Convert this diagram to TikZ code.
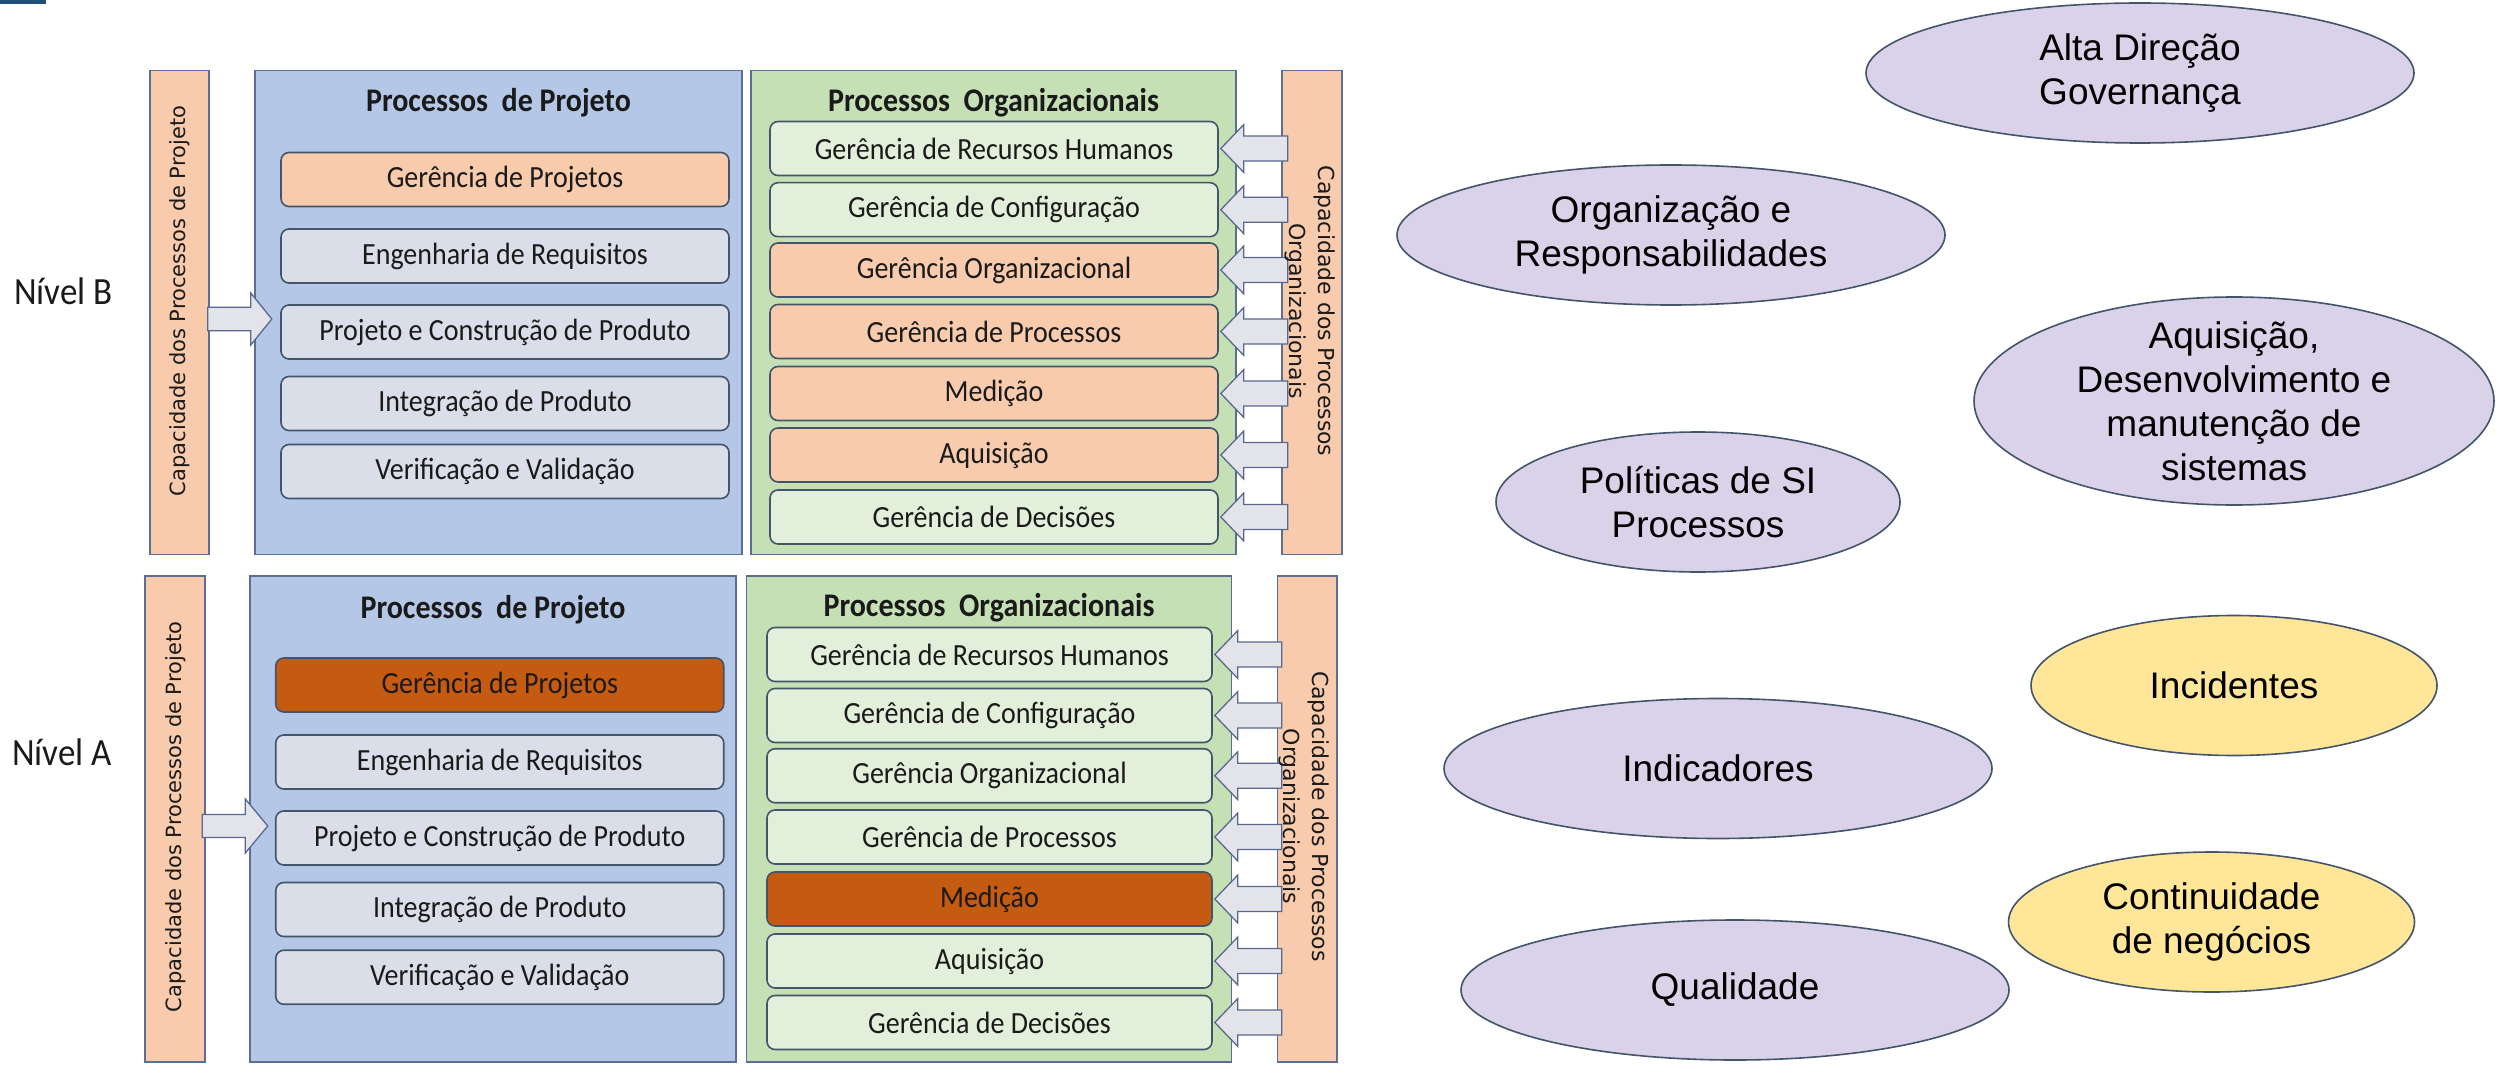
\documentclass[tikz,border=0pt]{standalone}
\usepackage{fontspec}
\usepackage{graphicx}
\setmainfont{Carlito}
\newfontfamily\arialf{Liberation Sans}
\newfontfamily\dejavuf{DejaVu Sans}
\usetikzlibrary{shapes.geometric}
\newcommand{\vstr}[1]{\scalebox{1}[1.1]{#1}}
\definecolor{bluec}{HTML}{B4C7E7}
\definecolor{greenc}{HTML}{C5E0B4}
\definecolor{orangec}{HTML}{F8CBAD}
\definecolor{darkorc}{HTML}{C55A11}
\definecolor{greyc}{HTML}{D9DEE9}
\definecolor{lgreenc}{HTML}{E2EFDA}
\definecolor{lavc}{HTML}{D9D2E9}
\definecolor{yelc}{HTML}{FFE699}
\definecolor{edgec}{HTML}{5B6E93}
\definecolor{iedge}{HTML}{44546A}
\definecolor{arrfill}{HTML}{E3E4EA}
\definecolor{arredge}{HTML}{5A6890}
\definecolor{markc}{HTML}{1F4E79}
\definecolor{txt}{HTML}{1A1A1A}
\begin{document}
\begin{tikzpicture}[x=1pt,y=-1pt,
  outer/.style={draw=edgec, line width=1.6pt, inner sep=0pt},
  ibox/.style={draw=iedge, line width=1.6pt, rounded corners=8pt, inner sep=0pt,
    minimum height=54pt, text=txt, font=\fontsize{28}{33}\selectfont},
  pbox/.style={ibox, minimum width=448pt},
  obox/.style={ibox, minimum width=448pt},
  oboxa/.style={ibox, minimum width=445pt},
  ptitle/.style={inner sep=0pt, text=txt, font=\bfseries\fontsize{30}{36}\selectfont},
  lvl/.style={inner sep=0pt, text=txt, font=\fontsize{35}{40}\selectfont},
  barL/.style={inner sep=0pt, rotate=90, text=txt, font=\dejavuf\fontsize{21}{25}\selectfont},
  barR/.style={inner sep=0pt, rotate=-90, align=center, text=txt, font=\dejavuf\fontsize{22}{29}\selectfont},
  barrow/.style={draw=arredge, fill=arrfill, line width=1.3pt, line join=miter},
  ell/.style={ellipse, draw=iedge, line width=1.6pt, inner sep=0pt},
  etxt/.style={inner sep=0pt, align=center, text=black, font=\arialf\fontsize{37}{44}\selectfont}
]
\fill[white] (0,0) rectangle (2497,1067);
\useasboundingbox (0,0) rectangle (2497,1067);
\fill[markc] (0,0) rectangle (46,4);

% ---------------- Nivel B ----------------
\node[lvl] (nivB) at (63.5,291) {\vstr{Nível B}};
\node[outer, fill=orangec, minimum width=59pt, minimum height=484pt] (barBL) at (179.5,312.5) {};
\node[outer, fill=bluec, minimum width=487pt, minimum height=484pt] (projB) at (498.5,312.5) {};
\node[outer, fill=greenc, minimum width=485pt, minimum height=484pt] (orgB) at (993.5,312.5) {};
\node[outer, fill=orangec, minimum width=60pt, minimum height=484pt] (barBR) at (1312,312.5) {};
\node[ptitle] (tpB) at (498.5,103) {\vstr{Processos~ de Projeto}};
\node[ptitle] (toB) at (993.5,103) {\vstr{Processos~ Organizacionais}};

\node[pbox, fill=orangec] (pB1) at (505,179.5) {\vstr{Gerência de Projetos}};
\node[pbox, fill=greyc] (pB2) at (505,256) {\vstr{Engenharia de Requisitos}};
\node[pbox, fill=greyc] (pB3) at (505,332) {\vstr{Projeto e Construção de Produto}};
\node[pbox, fill=greyc] (pB4) at (505,403.5) {\vstr{Integração de Produto}};
\node[pbox, fill=greyc] (pB5) at (505,471.5) {\vstr{Verificação e Validação}};

\node[obox, fill=lgreenc] (oB1) at (994,148.5) {\vstr{Gerência de Recursos Humanos}};
\node[obox, fill=lgreenc] (oB2) at (994,209.7) {\vstr{Gerência de Configuração}};
\node[obox, fill=orangec] (oB3) at (994,270) {\vstr{Gerência Organizacional}};
\node[obox, fill=orangec] (oB4) at (994,331.5) {\vstr{Gerência de Processos}};
\node[obox, fill=orangec] (oB5) at (994,393.5) {\vstr{Medição}};
\node[obox, fill=orangec] (oB6) at (994,455) {\vstr{Aquisição}};
\node[obox, fill=lgreenc] (oB7) at (994,517) {\vstr{Gerência de Decisões}};

\foreach \i in {1,...,7}{
  \draw[barrow] (oB\i.east) ++(2,0) -- ++(23,-24) -- ++(0,11.5) -- ++(44,0) -- ++(0,25)
    -- ++(-44,0) -- ++(0,11.5) -- cycle;
}
\draw[barrow] (barBL.east) ++(-2,-5.25) -- ++(43,0) -- ++(0,-14.25) -- ++(21,26)
  -- ++(-21,26) -- ++(0,-14.25) -- ++(-43,0) -- cycle;

\node[barL] (cBL) at (179.5,301) {Capacidade dos Processos de Projeto};
\node[barR] (cBR) at (1310,311) {Capacidade dos Processos\\Organizacionais};

% ---------------- Nivel A ----------------
\node[lvl] (nivA) at (62,752.5) {\vstr{Nível A}};
\node[outer, fill=orangec, minimum width=60pt, minimum height=486pt] (barAL) at (175,819) {};
\node[outer, fill=bluec, minimum width=486pt, minimum height=486pt] (projA) at (493,819) {};
\node[outer, fill=greenc, minimum width=485pt, minimum height=486pt] (orgA) at (989,819) {};
\node[outer, fill=orangec, minimum width=59.5pt, minimum height=486pt] (barAR) at (1307.25,819) {};
\node[ptitle] (tpA) at (493,610) {\vstr{Processos~ de Projeto}};
\node[ptitle] (toA) at (989,608) {\vstr{Processos~ Organizacionais}};

\node[pbox, fill=darkorc] (pA1) at (499.75,685) {\vstr{Gerência de Projetos}};
\node[pbox, fill=greyc] (pA2) at (499.75,762) {\vstr{Engenharia de Requisitos}};
\node[pbox, fill=greyc] (pA3) at (499.75,838) {\vstr{Projeto e Construção de Produto}};
\node[pbox, fill=greyc] (pA4) at (499.75,909.5) {\vstr{Integração de Produto}};
\node[pbox, fill=greyc] (pA5) at (499.75,977.25) {\vstr{Verificação e Validação}};

\node[oboxa, fill=lgreenc] (oA1) at (989.5,654.5) {\vstr{Gerência de Recursos Humanos}};
\node[oboxa, fill=lgreenc] (oA2) at (989.5,715.5) {\vstr{Gerência de Configuração}};
\node[oboxa, fill=lgreenc] (oA3) at (989.5,775.75) {\vstr{Gerência Organizacional}};
\node[oboxa, fill=lgreenc] (oA4) at (989.5,837) {\vstr{Gerência de Processos}};
\node[oboxa, fill=darkorc] (oA5) at (989.5,899) {\vstr{Medição}};
\node[oboxa, fill=lgreenc] (oA6) at (989.5,961) {\vstr{Aquisição}};
\node[oboxa, fill=lgreenc] (oA7) at (989.5,1022.5) {\vstr{Gerência de Decisões}};

\foreach \i in {1,...,7}{
  \draw[barrow] (oA\i.east) ++(2,0) -- ++(23,-24) -- ++(0,11.5) -- ++(44,0) -- ++(0,25)
    -- ++(-44,0) -- ++(0,11.5) -- cycle;
}
\draw[barrow] (barAL.east) ++(-3.5,-4.5) -- ++(43,0) -- ++(0,-15.5) -- ++(22.5,27)
  -- ++(-22.5,27) -- ++(0,-15.5) -- ++(-43,0) -- cycle;

\node[barL] (cAL) at (176,817) {Capacidade dos Processos de Projeto};
\node[barR] (cAR) at (1304,816.5) {Capacidade dos Processos\\Organizacionais};

% ---------------- Ellipses ----------------
\node[ell, fill=lavc, minimum width=548pt, minimum height=140pt] (e1) at (2140,73) {};
\node[etxt] (e1t) at (e1) {Alta Direção\\Governança};
\node[ell, fill=lavc, minimum width=548pt, minimum height=140pt] (e2) at (1671,235) {};
\node[etxt] (e2t) at (e2) {Organização e\\Responsabilidades};
\node[ell, fill=lavc, minimum width=520pt, minimum height=208pt] (e3) at (2234,401) {};
\node[etxt] (e3t) at (e3) {Aquisição,\\Desenvolvimento e\\manutenção de\\sistemas};
\node[ell, fill=lavc, minimum width=404pt, minimum height=140pt] (e4) at (1698,502) {};
\node[etxt] (e4t) at (e4) {Políticas de SI\\Processos};
\node[ell, fill=yelc, minimum width=406pt, minimum height=140pt] (e5) at (2234,685.5) {};
\node[etxt] (e5t) at (e5) {Incidentes};
\node[ell, fill=lavc, minimum width=548pt, minimum height=140pt] (e6) at (1718,768.5) {};
\node[etxt] (e6t) at (e6) {Indicadores};
\node[ell, fill=yelc, minimum width=406pt, minimum height=140pt] (e7) at (2211.5,922) {};
\node[etxt] (e7t) at (e7) {Continuidade\\de negócios};
\node[ell, fill=lavc, minimum width=548pt, minimum height=140pt] (e8) at (1735,990) {};
\node[etxt] (e8t) at (e8) {Qualidade};
\end{tikzpicture}
\end{document}
